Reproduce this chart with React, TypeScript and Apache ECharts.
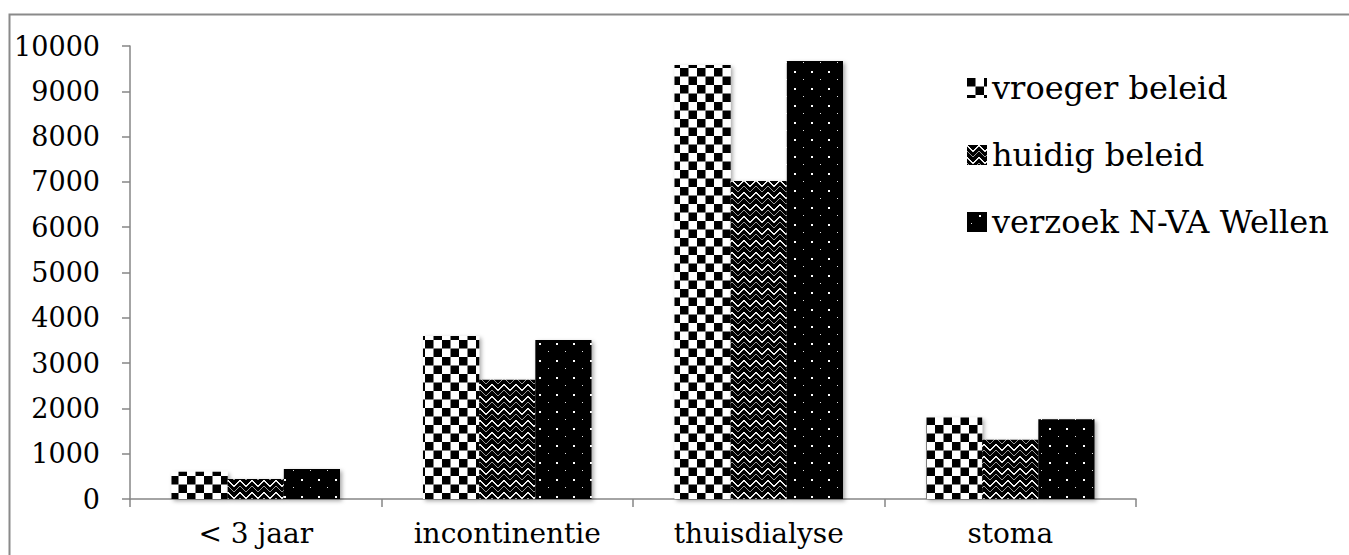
import React, { useEffect, useRef } from "react";
import * as echarts from "echarts";

const categories = ["< 3 jaar", "incontinentie", "thuisdialyse", "stoma"];
const seriesNames = ["vroeger beleid", "huidig beleid", "verzoek N-VA Wellen"];
const vroeger = [600, 3600, 9580, 1800];
const huidig = [440, 2630, 7020, 1310];
const verzoek = [660, 3510, 9670, 1760];
const yMax = 10000;
const yStep = 1000;

function makeChecker(): HTMLCanvasElement {
  const c = document.createElement("canvas");
  c.width = 17;
  c.height = 17;
  const ctx = c.getContext("2d")!;
  ctx.fillStyle = "#fff";
  ctx.fillRect(0, 0, 17, 17);
  ctx.fillStyle = "#000";
  ctx.fillRect(0, 0, 8.5, 8.5);
  ctx.fillRect(8.5, 8.5, 8.5, 8.5);
  return c;
}

function makeZigzag(): HTMLCanvasElement {
  const n = 12;
  const c = document.createElement("canvas");
  c.width = n;
  c.height = n;
  const ctx = c.getContext("2d")!;
  ctx.fillStyle = "#000";
  ctx.fillRect(0, 0, n, n);
  for (let x = 0; x < n; x++) {
    const y = x < n / 2 ? x : n - 1 - x;
    ctx.fillStyle = "#fff";
    ctx.fillRect(x, y, 1, 1);
    ctx.fillStyle = "#9a9a9a";
    ctx.fillRect(x, (y + 6) % n, 1, 1);
    ctx.fillStyle = "#d8d8d8";
    ctx.fillRect(x, (y + 1) % n, 1, 1);
  }
  return c;
}

function makeDots(): HTMLCanvasElement {
  const c = document.createElement("canvas");
  c.width = 17;
  c.height = 17;
  const ctx = c.getContext("2d")!;
  ctx.fillStyle = "#000";
  ctx.fillRect(0, 0, 17, 17);
  ctx.fillStyle = "#fff";
  ctx.fillRect(12, 3, 2, 2);
  ctx.fillStyle = "#e0e0e0";
  ctx.fillRect(4, 11, 1, 1);
  return c;
}

export default function App() {
  const ref = useRef<HTMLDivElement>(null);
  useEffect(() => {
    document.body.style.margin = "0";
    const chart = echarts.init(ref.current!, null, { renderer: "svg" });
    const patterns = [makeChecker(), makeZigzag(), makeDots()];
    const data = [vroeger, huidig, verzoek];
    const font = "DejaVu Serif";
    chart.setOption({
      animation: false,
      backgroundColor: "#fff",
      graphic: [
        {
          type: "rect",
          left: 7,
          top: 12,
          shape: { width: 1400, height: 600 },
          style: { fill: "none", stroke: "#8a8a8a", lineWidth: 2 },
          silent: true,
        },
      ],
      grid: { left: 130, right: 213, top: 46, bottom: 56 },
      legend: {
        orient: "vertical",
        left: 962,
        top: 66,
        itemWidth: 20,
        itemHeight: 20,
        itemGap: 33,
        icon: "rect",
        textStyle: { fontFamily: font, fontSize: 32, color: "#000", lineHeight: 34, padding: [0, 0, 0, 0] },
        data: seriesNames,
      },
      xAxis: {
        type: "category",
        data: categories,
        axisLine: { lineStyle: { color: "#868686", width: 1.5 } },
        axisTick: { show: true, length: 8, lineStyle: { color: "#868686", width: 1.5 } },
        axisLabel: { fontFamily: font, fontSize: 28, color: "#000", margin: 20 },
      },
      yAxis: {
        type: "value",
        min: 0,
        max: yMax,
        interval: yStep,
        splitLine: { show: false },
        axisLine: { show: true, lineStyle: { color: "#868686", width: 1.5 } },
        axisTick: { show: true, length: 8, lineStyle: { color: "#868686", width: 1.5 } },
        axisLabel: { fontFamily: font, fontSize: 27, color: "#000", margin: 30, formatter: (v: number) => String(v) },
      },
      series: seriesNames.map((name, i) => ({
        name,
        type: "bar",
        data: data[i],
        barGap: "0%",
        barCategoryGap: "33%",
        itemStyle: {
          color: { image: patterns[i], repeat: "repeat", imageWidth: patterns[i].width, imageHeight: patterns[i].height },
          shadowColor: "rgba(0,0,0,0.35)",
          shadowBlur: 4,
          shadowOffsetX: 2,
          shadowOffsetY: 2,
        },
      })),
    });
    return () => chart.dispose();
  }, []);
  return <div ref={ref} style={{ width: 1349, height: 555 }} />;
}
